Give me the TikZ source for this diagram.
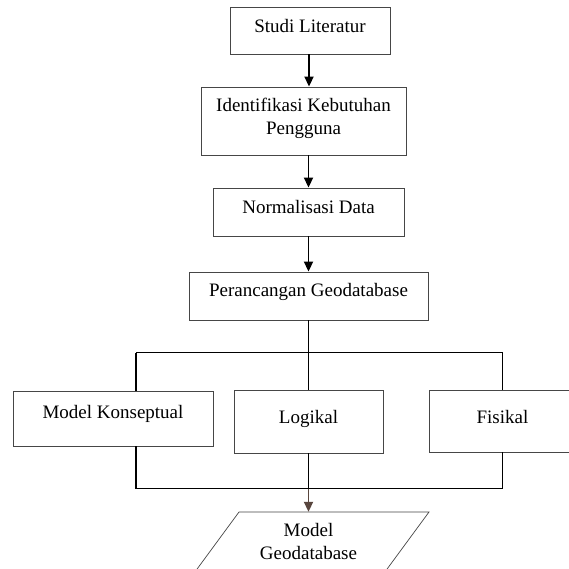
\documentclass[tikz,border=0pt]{standalone}
\usepackage{fontspec}
\setmainfont{Liberation Serif}
\usetikzlibrary{arrows.meta}
\definecolor{boxline}{RGB}{70,70,70}
\definecolor{arrbrown}{RGB}{89,70,62}
\tikzset{
  stepbox/.style={draw=boxline, line width=0.9pt, fill=white, inner sep=0pt,
    align=center, font=\fontsize{19}{23}\selectfont, text height=13pt},
  conn/.style={line width=1.9pt, black},
  arr/.style={conn, -{Triangle[width=9pt,length=10pt]}},
}
\begin{document}
\begin{tikzpicture}[x=1pt,y=-1pt]
\useasboundingbox (0,0) rectangle (569,569);
\clip (0,0) rectangle (569,569);
\fill[white] (0,0) rectangle (569,569);
% boxes
\node[stepbox, minimum width=160, minimum height=47, text depth=9pt] (s1) at (310,30.5) {Studi Literatur};
\node[stepbox, minimum width=205, minimum height=68, text height=36pt, text depth=9pt] (s2) at (303.5,121) {Identifikasi Kebutuhan\\Pengguna};
\node[stepbox, minimum width=191, minimum height=48, text depth=10pt] (s3) at (308.5,212) {Normalisasi Data};
\node[stepbox, minimum width=239, minimum height=48, text depth=12pt] (s4) at (308.5,296) {Perancangan Geodatabase};
\node[stepbox, minimum width=200, minimum height=55, text depth=13pt] (mk) at (113,418.5) {Model Konseptual};
\node[stepbox, minimum width=149, minimum height=63, text depth=9pt] (lg) at (308.5,421.5) {Logikal};
\node[stepbox, minimum width=147, minimum height=62, text depth=8pt] (fs) at (502.5,421) {Fisikal};
% output parallelogram
\draw[boxline, line width=0.7pt] (239,512) -- (429,512) -- (379,580) -- (189,580) -- cycle;
\node[align=center, inner sep=0pt, minimum height=68, font=\fontsize{19}{23}\selectfont, text height=36pt, text depth=9pt] (mg) at (308.5,546) {Model\\Geodatabase};
% coordinates
\coordinate (j1) at (308.5,352.5);
\coordinate (tl) at (136,352.5);
\coordinate (tr) at (502.5,352.5);
\coordinate (j2) at (308.5,488.5);
\coordinate (bl) at (136,488.5);
\coordinate (br) at (502.5,488.5);
% connectors
\draw[arr] (s1.south -| 309,0) -- (s2.north -| 309,0);
\draw[arr] (s2.south -| 308.5,0) -- (s3.north);
\draw[arr] (s3.south) -- (s4.north);
\draw[conn] (s4.south) -- (j1);
\draw[conn] (tl) -- (tr);
\draw[conn] (tl) -- (tl |- mk.north);
\draw[conn] (j1) -- (lg.north);
\draw[conn] (tr) -- (tr |- fs.north);
\draw[conn] (bl |- mk.south) -- (bl);
\draw[conn] (lg.south) -- (j2);
\draw[conn] (br |- fs.south) -- (br);
\draw[conn] (bl) -- (br);
\draw[arr, arrbrown] (j2) -- (mg.north);
\end{tikzpicture}
\end{document}
